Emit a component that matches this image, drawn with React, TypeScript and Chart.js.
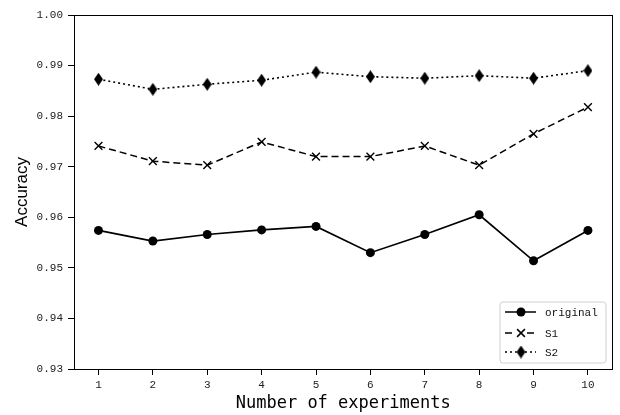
import React, { useEffect, useRef } from 'react';
import { Chart, registerables } from 'chart.js';

Chart.register(...registerables);

const experiments = [1, 2, 3, 4, 5, 6, 7, 8, 9, 10];
const originalValues = [0.9574, 0.9553, 0.9566, 0.9575, 0.9582, 0.9530, 0.9566, 0.9605, 0.9514, 0.9574];
const s1Values = [0.9741, 0.9711, 0.9703, 0.9749, 0.9720, 0.9720, 0.9741, 0.9703, 0.9765, 0.9818];
const s2Values = [0.9873, 0.9853, 0.9863, 0.9871, 0.9887, 0.9878, 0.9875, 0.9880, 0.9875, 0.9890];
const seriesNames = ['original', 'S1', 'S2'];
const yTickValues = [0.93, 0.94, 0.95, 0.96, 0.97, 0.98, 0.99, 1.0];
const xTitle = 'Number of experiments';
const yTitle = 'Accuracy';

function makeDiamond(): HTMLCanvasElement {
  const w = 9;
  const h = 13;
  const c = document.createElement('canvas');
  c.width = w;
  c.height = h;
  const g = c.getContext('2d')!;
  g.fillStyle = '#000';
  g.beginPath();
  g.moveTo(w / 2, 0);
  g.lineTo(w, h / 2);
  g.lineTo(w / 2, h);
  g.lineTo(0, h / 2);
  g.closePath();
  g.fill();
  return c;
}

export default function App() {
  const ref = useRef<HTMLCanvasElement | null>(null);

  useEffect(() => {
    if (!ref.current) return;
    const diamond = makeDiamond();
    const toPts = (vals: number[]) => experiments.map((x, i) => ({ x, y: vals[i] }));
    const dashes: number[][] = [[], [7, 4], [2, 3]];

    const framePlugin = {
      id: 'frameAndLegend',
      afterDraw(chart: any) {
        const ctx = chart.ctx as CanvasRenderingContext2D;
        const a = chart.chartArea;
        ctx.save();
        ctx.strokeStyle = '#000';
        ctx.lineWidth = 1;
        ctx.setLineDash([]);
        ctx.strokeRect(Math.round(a.left) + 0.5, Math.round(a.top) + 0.5, Math.round(a.right - a.left), Math.round(a.bottom - a.top));

        // legend
        const bw = 106;
        const bh = 61;
        const bx = Math.round(a.right) - 6 - bw;
        const by = Math.round(a.bottom) - 6 - bh;
        const r = 3;
        ctx.beginPath();
        ctx.moveTo(bx + r, by);
        ctx.lineTo(bx + bw - r, by);
        ctx.quadraticCurveTo(bx + bw, by, bx + bw, by + r);
        ctx.lineTo(bx + bw, by + bh - r);
        ctx.quadraticCurveTo(bx + bw, by + bh, bx + bw - r, by + bh);
        ctx.lineTo(bx + r, by + bh);
        ctx.quadraticCurveTo(bx, by + bh, bx, by + bh - r);
        ctx.lineTo(bx, by + r);
        ctx.quadraticCurveTo(bx, by, bx + r, by);
        ctx.closePath();
        ctx.fillStyle = 'rgba(255,255,255,0.8)';
        ctx.fill();
        ctx.strokeStyle = '#d0d0d0';
        ctx.lineWidth = 1;
        ctx.stroke();

        const rows = [by + 10, by + 31, by + 50];
        seriesNames.forEach((name, i) => {
          const y = rows[i];
          const x0 = bx + 5;
          const x1 = bx + 36;
          const mx = bx + 21;
          ctx.strokeStyle = '#000';
          ctx.lineWidth = 1.5;
          ctx.setLineDash(dashes[i]);
          ctx.beginPath();
          ctx.moveTo(x0, y);
          ctx.lineTo(x1, y);
          ctx.stroke();
          ctx.setLineDash([]);
          if (i === 0) {
            ctx.fillStyle = '#000';
            ctx.beginPath();
            ctx.arc(mx, y, 4.5, 0, Math.PI * 2);
            ctx.fill();
          } else if (i === 1) {
            ctx.fillStyle = '#fff';
            ctx.fillRect(mx - 5, y - 5, 10, 10);
            ctx.beginPath();
            ctx.moveTo(mx - 3.9, y - 3.9);
            ctx.lineTo(mx + 3.9, y + 3.9);
            ctx.moveTo(mx - 3.9, y + 3.9);
            ctx.lineTo(mx + 3.9, y - 3.9);
            ctx.stroke();
          } else {
            ctx.drawImage(diamond, mx - diamond.width / 2, y - diamond.height / 2);
          }
          ctx.fillStyle = '#111';
          ctx.font = '11px "Liberation Mono"';
          ctx.textAlign = 'left';
          ctx.textBaseline = 'middle';
          ctx.fillText(name, bx + 45, y + 1);
        });
        ctx.restore();
      },
    };

    const chart = new Chart(ref.current, {
      type: 'line',
      data: {
        datasets: [
          {
            label: seriesNames[0],
            data: toPts(originalValues),
            borderColor: '#000',
            backgroundColor: '#000',
            borderWidth: 1.7,
            pointStyle: 'circle',
            pointRadius: 4.5,
            pointBorderWidth: 0,
            pointBackgroundColor: '#000',
          },
          {
            label: seriesNames[1],
            data: toPts(s1Values),
            borderColor: '#000',
            backgroundColor: '#000',
            borderWidth: 1.5,
            borderDash: dashes[1],
            pointStyle: 'crossRot',
            pointRadius: 5.5,
            pointBorderWidth: 1.4,
            pointBorderColor: '#000',
          },
          {
            label: seriesNames[2],
            data: toPts(s2Values),
            borderColor: '#000',
            backgroundColor: '#000',
            borderWidth: 1.6,
            borderDash: dashes[2],
            pointStyle: diamond as any,
            pointRadius: 6,
          },
        ],
      },
      options: {
        responsive: false,
        animation: false,
        events: [],
        layout: { padding: { top: 15, right: -1, left: 0, bottom: 0 } },
        plugins: {
          legend: { display: false },
          tooltip: { enabled: false },
        },
        elements: { line: { tension: 0 } },
        scales: {
          x: {
            type: 'linear',
            min: 0.55,
            max: 10.45,
            afterBuildTicks: (s: any) => {
              s.ticks = experiments.map((v) => ({ value: v }));
            },
            afterFit: (s: any) => {
              s.height = 46;
              s.paddingLeft = 0;
              s.paddingRight = 0;
            },
            grid: { display: true, drawOnChartArea: false, drawTicks: true, tickLength: 6, color: '#000', lineWidth: 1 },
            border: { display: true, color: '#000', width: 1 },
            ticks: {
              color: '#222',
              padding: 3,
              maxRotation: 0,
              autoSkip: false,
              font: { family: '"Liberation Mono"', size: 11 },
              callback: (v: any) => String(v),
            },
            title: {
              display: true,
              text: xTitle,
              color: '#000',
              font: { family: '"DejaVu Sans Mono"', size: 17 },
              padding: { top: 0, bottom: 1 },
            },
          },
          y: {
            min: 0.93,
            max: 1.0,
            afterBuildTicks: (s: any) => {
              s.ticks = yTickValues.map((v) => ({ value: v }));
            },
            afterFit: (s: any) => {
              s.width = 74;
              s.paddingTop = 0;
              s.paddingBottom = 0;
            },
            grid: { display: true, drawOnChartArea: false, drawTicks: true, tickLength: 6, color: '#000', lineWidth: 1 },
            border: { display: true, color: '#000', width: 1 },
            ticks: {
              color: '#222',
              padding: 5,
              autoSkip: false,
              font: { family: '"Liberation Mono"', size: 11 },
              callback: (v: any) => Number(v).toFixed(2),
            },
            title: {
              display: true,
              text: yTitle,
              color: '#000',
              font: { family: '"Liberation Sans"', size: 17 },
              padding: { top: 12, bottom: 0 },
            },
          },
        },
      },
      plugins: [framePlugin],
    } as any);

    return () => chart.destroy();
  }, []);

  return (
    <div style={{ position: 'fixed', left: 0, top: 0, width: 620, height: 415, background: '#fff' }}>
      <canvas ref={ref} width={620} height={415} style={{ width: 620, height: 415, display: 'block' }} />
    </div>
  );
}
